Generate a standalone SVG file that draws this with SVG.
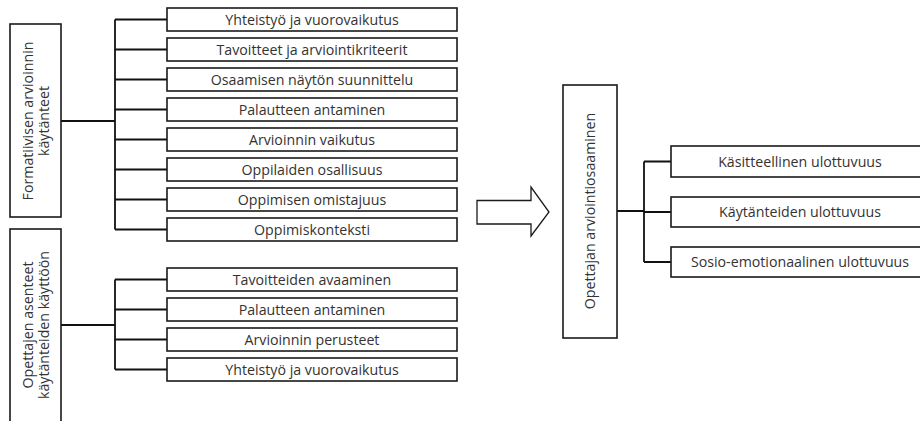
<svg xmlns="http://www.w3.org/2000/svg" width="920" height="421" viewBox="0 0 920 421">
<style>
.box{fill:#fff;stroke:#1a1a1a;stroke-width:1.6}
.t{font-family:"Open Sans","Noto Sans",sans-serif;font-weight:400;font-size:14.2px;fill:#333;text-anchor:middle}
.c{fill:none;stroke:#111;stroke-width:1.8}
</style>
<rect width="920" height="421" fill="#fff"/>
<g id="connectors">
<path class="c" d="M61,121H115M115,19.5V229.5M115,19.5H167M115,49.5H167M115,79.5H167M115,109.5H167M115,139.5H167M115,169.5H167M115,199.5H167M115,229.5H167"/>
<path class="c" d="M61,325H115M115,279.5V369.5M115,279.5H167M115,309.5H167M115,339.5H167M115,369.5H167"/>
<path class="c" d="M617,211H644M644,161.5V262M644,161.5H671M644,212H671M644,262H671"/>
</g>
<g id="arrow">
<path d="M477,200.5H531V187L549,212L531,236V224H477Z" fill="#fff" stroke="#1a1a1a" stroke-width="1.3"/>
</g>
<g id="formativisen">
<rect class="box" x="10" y="24" width="51" height="193"/>
<text class="t" transform="translate(33,121) rotate(-90)">Formatiivisen arvioinnin</text>
<text class="t" transform="translate(49,121) rotate(-90)">käytänteet</text>
</g>
<g id="asenteet">
<rect class="box" x="10" y="229" width="51" height="200"/>
<text class="t" transform="translate(33,325) rotate(-90)">Opettajen asenteet</text>
<text class="t" transform="translate(49,325) rotate(-90)">käytänteiden käyttöön</text>
</g>
<g id="f1"><rect class="box" x="167" y="8" width="290" height="23"/><text class="t" x="312" y="24.5">Yhteistyö ja vuorovaikutus</text></g>
<g id="f2"><rect class="box" x="167" y="38" width="290" height="23"/><text class="t" x="312" y="54.5">Tavoitteet ja arviointikriteerit</text></g>
<g id="f3"><rect class="box" x="167" y="68" width="290" height="23"/><text class="t" x="312" y="84.5">Osaamisen näytön suunnittelu</text></g>
<g id="f4"><rect class="box" x="167" y="98" width="290" height="23"/><text class="t" x="312" y="114.5">Palautteen antaminen</text></g>
<g id="f5"><rect class="box" x="167" y="128" width="290" height="23"/><text class="t" x="312" y="144.5">Arvioinnin vaikutus</text></g>
<g id="f6"><rect class="box" x="167" y="158" width="290" height="23"/><text class="t" x="312" y="174.5">Oppilaiden osallisuus</text></g>
<g id="f7"><rect class="box" x="167" y="188" width="290" height="23"/><text class="t" x="312" y="204.5">Oppimisen omistajuus</text></g>
<g id="f8"><rect class="box" x="167" y="218" width="290" height="23"/><text class="t" x="312" y="234.5">Oppimiskonteksti</text></g>
<g id="a1"><rect class="box" x="167" y="268" width="290" height="23"/><text class="t" x="312" y="284.5">Tavoitteiden avaaminen</text></g>
<g id="a2"><rect class="box" x="167" y="298" width="290" height="23"/><text class="t" x="312" y="314.5">Palautteen antaminen</text></g>
<g id="a3"><rect class="box" x="167" y="328" width="290" height="23"/><text class="t" x="312" y="344.5">Arvioinnin perusteet</text></g>
<g id="a4"><rect class="box" x="167" y="358" width="290" height="23"/><text class="t" x="312" y="374.5">Yhteistyö ja vuorovaikutus</text></g>
<g id="osaaminen">
<rect class="box" x="563" y="85" width="54" height="253"/>
<text class="t" transform="translate(595,211) rotate(-90)">Opettajan arviointiosaaminen</text>
</g>
<g id="r1"><rect class="box" x="671" y="146" width="260" height="31"/><text class="t" x="800" y="166.5">Käsitteellinen ulottuvuus</text></g>
<g id="r2"><rect class="box" x="671" y="197" width="260" height="30"/><text class="t" x="800" y="217">Käytänteiden ulottuvuus</text></g>
<g id="r3"><rect class="box" x="671" y="247" width="260" height="30"/><text class="t" x="800" y="267">Sosio-emotionaalinen ulottuvuus</text></g>
</svg>
